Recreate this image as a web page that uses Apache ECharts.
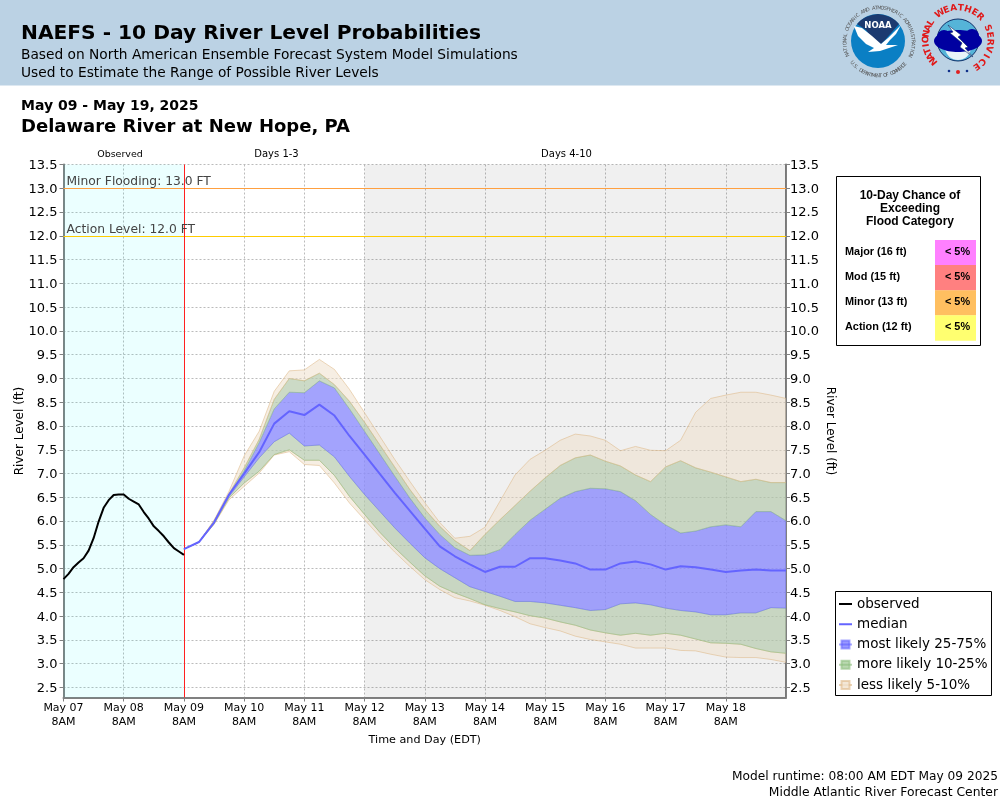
<!DOCTYPE html>
<html>
<head>
<meta charset="utf-8">
<script src="https://cdn.jsdelivr.net/npm/echarts@6/dist/echarts.min.js"></script>
<style>html,body{margin:0;padding:0;background:#fff}#main{width:1000px;height:800px}</style>
</head>
<body>
<div id="main"></div>
<script>
var font = 'DejaVu Sans';

// hours since May 07 8AM
var xLabels = ['May 07', 'May 08', 'May 09', 'May 10', 'May 11', 'May 12', 'May 13', 'May 14', 'May 15', 'May 16', 'May 17', 'May 18'];
var yTicks = [2.5, 3, 3.5, 4, 4.5, 5, 5.5, 6, 6.5, 7, 7.5, 8, 8.5, 9, 9.5, 10, 10.5, 11, 11.5, 12, 12.5, 13, 13.5];

// observed, every 2 hours from May 07 8AM
var observed = [4.78, 4.89, 5.03, 5.13, 5.22, 5.38, 5.64, 5.99, 6.28, 6.44, 6.55, 6.56, 6.56, 6.47, 6.41, 6.35, 6.19, 6.05, 5.89, 5.79, 5.68, 5.55, 5.43, 5.36, 5.29];

// forecast, every 6 hours from May 09 8AM
var median = [5.41, 5.56, 5.97, 6.56, 7.00, 7.45, 8.05, 8.31, 8.23, 8.45, 8.22, 7.79, 7.40, 7.00, 6.60, 6.22, 5.84, 5.47, 5.26, 5.09, 4.93, 5.04, 5.04, 5.22, 5.22, 5.17, 5.11, 4.98, 4.98, 5.11, 5.15, 5.09, 4.98, 5.05, 5.03, 4.98, 4.93, 4.96, 4.98, 4.96, 4.96];
var high75 = [5.41, 5.56, 5.99, 6.56, 7.05, 7.65, 8.36, 8.71, 8.70, 8.95, 8.80, 8.36, 7.89, 7.42, 6.95, 6.49, 6.07, 5.72, 5.44, 5.28, 5.29, 5.40, 5.72, 6.02, 6.25, 6.48, 6.62, 6.69, 6.68, 6.62, 6.43, 6.14, 5.92, 5.75, 5.79, 5.88, 5.92, 5.88, 6.20, 6.20, 6.01];
var low25 = [5.41, 5.56, 5.96, 6.52, 6.93, 7.33, 7.67, 7.85, 7.58, 7.60, 7.35, 6.94, 6.56, 6.21, 5.86, 5.54, 5.23, 5.00, 4.81, 4.62, 4.52, 4.42, 4.31, 4.31, 4.28, 4.23, 4.18, 4.12, 4.14, 4.26, 4.28, 4.24, 4.17, 4.12, 4.09, 4.03, 4.03, 4.07, 4.07, 4.18, 4.17];
var high90 = [5.41, 5.56, 6.00, 6.58, 7.12, 7.72, 8.56, 9.00, 8.95, 9.11, 8.87, 8.52, 8.08, 7.61, 7.14, 6.67, 6.25, 5.89, 5.59, 5.38, 5.72, 6.03, 6.33, 6.63, 6.91, 7.17, 7.33, 7.39, 7.26, 7.16, 6.97, 6.83, 7.14, 7.27, 7.12, 7.03, 6.93, 6.83, 6.88, 6.81, 6.81];
var low10 = [5.41, 5.56, 5.94, 6.49, 6.80, 7.05, 7.40, 7.50, 7.28, 7.28, 6.96, 6.52, 6.14, 5.77, 5.44, 5.14, 4.85, 4.63, 4.49, 4.37, 4.24, 4.16, 4.09, 4.01, 3.96, 3.88, 3.81, 3.71, 3.65, 3.60, 3.64, 3.60, 3.64, 3.60, 3.52, 3.44, 3.43, 3.41, 3.32, 3.25, 3.22];
var high95 = [5.41, 5.56, 6.02, 6.63, 7.37, 7.89, 8.73, 9.16, 9.18, 9.40, 9.19, 8.77, 8.28, 7.79, 7.30, 6.84, 6.39, 5.97, 5.64, 5.68, 5.87, 6.42, 6.97, 7.30, 7.49, 7.70, 7.83, 7.79, 7.70, 7.48, 7.57, 7.49, 7.48, 7.70, 8.29, 8.58, 8.65, 8.71, 8.71, 8.65, 8.58];
var low5 = [5.41, 5.56, 5.93, 6.45, 6.73, 7.01, 7.39, 7.46, 7.19, 7.17, 6.80, 6.38, 6.03, 5.68, 5.35, 5.05, 4.77, 4.56, 4.39, 4.32, 4.23, 4.12, 3.99, 3.84, 3.76, 3.69, 3.58, 3.51, 3.46, 3.41, 3.33, 3.33, 3.33, 3.28, 3.27, 3.20, 3.14, 3.13, 3.13, 3.09, 3.03];

var floodLabels = ['Major (16 ft)', 'Mod (15 ft)', 'Minor (13 ft)', 'Action (12 ft)'];
var floodChance = ['< 5%', '< 5%', '< 5%', '< 5%'];
var floodColors = ['#ff80ff', '#ff8080', '#ffbf60', '#ffff70'];

var obsData = observed.map(function (v, i) { return [i * 2, v]; });
var medData = median.map(function (v, i) { return [48 + i * 6, v]; });

var tan = 'rgba(222,184,135,0.55)', tanFill = 'rgba(238,222,200,0.5)';
var green = 'rgba(140,190,125,0.5)', greenFill = 'rgba(183,203,174,0.7)';
var blue = 'rgba(85,85,255,0.35)', blueFill = 'rgba(140,140,252,0.8)';

// one polygon between two percentile lines, placed by the axes
function bandSeries(name, lows, highs, line, fill) {
    return {
        name: name,
        type: 'custom',
        silent: true,
        z: 3,
        encode: { x: 0, y: [1, 2] },
        data: lows.map(function (v, i) { return [48 + i * 6, v, highs[i]]; }),
        renderItem: function (params, api) {
            if (params.dataIndex !== 0) return;
            var lo = lows.map(function (v, i) { return api.coord([48 + i * 6, v]); });
            var hi = highs.map(function (v, i) { return api.coord([48 + i * 6, v]); });
            return {
                type: 'group',
                children: [
                    { type: 'polygon', shape: { points: lo.concat(hi.slice().reverse()) }, style: { fill: fill } },
                    { type: 'polyline', shape: { points: lo }, style: { stroke: line, fill: 'none', lineWidth: 1 } },
                    { type: 'polyline', shape: { points: hi }, style: { stroke: line, fill: 'none', lineWidth: 1 } }
                ]
            };
        }
    };
}

// empty line series, only there to give the legend its line-and-square icon
function legendSeries(name, line, fill) {
    return {
        name: name,
        type: 'line',
        data: [],
        symbol: 'rect',
        lineStyle: { color: line, width: 2 },
        itemStyle: { color: fill, borderColor: line, borderWidth: 1 }
    };
}

// text helper for the page furniture
function txt(x, y, text, size, weight, extra) {
    var s = { x: x, y: y, text: text, fontFamily: font, fontSize: size, fontWeight: weight || 'normal', fill: '#000', verticalAlign: 'middle' };
    for (var k in extra) s[k] = extra[k];
    return { type: 'text', style: s, silent: true };
}

function shape(pts, fill, stroke) {
    return { type: 'polygon', shape: { points: pts }, style: { fill: fill, stroke: stroke, lineWidth: stroke ? 0.6 : 0 }, silent: true };
}

function disc(cx, cy, r, fill) {
    return { type: 'circle', shape: { cx: cx, cy: cy, r: r }, style: { fill: fill }, silent: true };
}

// letters placed one by one around a logo
function ringText(cx, cy, r, str, startDeg, stepDeg, size, color, weight, inner) {
    return str.split('').map(function (c, i) {
        var a = (startDeg + i * stepDeg) * Math.PI / 180;
        return {
            type: 'text',
            x: cx + r * Math.sin(a),
            y: cy - r * Math.cos(a),
            rotation: inner ? Math.PI - a : -a,
            silent: true,
            style: { text: c, fontFamily: font, fontSize: size, fontWeight: weight, fill: color, align: 'center', verticalAlign: 'middle' }
        };
    });
}

var graphics = [
    { type: 'rect', shape: { x: 0, y: 0, width: 1000, height: 85.5 }, style: { fill: '#bbd2e4' }, z: -1, silent: true },
    txt(21, 34, 'NAEFS - 10 Day River Level Probabilities', 20.2, 'bold'),
    txt(21, 55, 'Based on North American Ensemble Forecast System Model Simulations', 13.75),
    txt(21, 73.5, 'Used to Estimate the Range of Possible River Levels', 13.75),
    txt(21, 106, 'May 09 - May 19, 2025', 14, 'bold'),
    txt(21, 127, 'Delaware River at New Hope, PA', 18, 'bold'),
    txt(120, 154.5, 'Observed', 9.5, 'normal', { align: 'center' }),
    txt(276.5, 154.5, 'Days 1-3', 10, 'normal', { align: 'center' }),
    txt(566.5, 154.5, 'Days 4-10', 10, 'normal', { align: 'center' }),
    txt(998, 777, 'Model runtime: 08:00 AM EDT May 09 2025', 12.2, 'normal', { align: 'right' }),
    txt(998, 793, 'Middle Atlantic River Forecast Center', 12.35, 'normal', { align: 'right' }),

    // NOAA logo
    disc(878, 41, 27, '#0a7fc4'),
    shape([[857, 24], [861, 20], [866, 17], [872, 15], [878, 14], [884, 15], [890, 17], [895, 20], [899, 24], [892, 32], [885, 40], [881, 44], [872, 38], [866, 30]], '#1c3a70'),
    shape([[854, 26], [862, 28], [872, 36], [881, 44], [888, 38], [894, 32], [901, 25], [896, 34], [890, 40], [886, 45], [898, 45], [880, 51], [868, 52], [874, 48], [866, 44], [858, 36]], '#fff'),
    txt(878, 25.5, 'NOAA', 8.5, 'bold', { align: 'center', fill: '#fff' }),

    // NWS logo
    { type: 'circle', shape: { cx: 958, cy: 40, r: 21 }, style: { fill: '#55b4d8', stroke: '#10306a', lineWidth: 1 }, silent: true },
    disc(958, 47, 13, '#e8f4f8'),
    { type: 'ellipse', shape: { cx: 958, cy: 41, rx: 24, ry: 11 }, style: { fill: '#0000a0' }, silent: true },
    disc(944, 37, 7, '#0000a0'),
    disc(972, 36, 7, '#0000a0'),
    shape([[948, 25], [961, 35], [958, 37], [968, 47], [965, 48], [973, 57], [960, 47], [962, 43], [950, 33], [953, 32]], '#fff', '#10306a'),
    disc(949, 71, 1.3, '#10308a'),
    disc(967, 71, 1.3, '#10308a'),
    disc(958, 72, 2, '#e02020'),

    // flood category table
    { type: 'rect', shape: { x: 836.5, y: 176.5, width: 144, height: 169 }, style: { fill: '#fff', stroke: '#000', lineWidth: 1 }, silent: true },
    txt(910, 195.5, '10-Day Chance of', 12, 'bold', { align: 'center', fontFamily: 'Liberation Sans' }),
    txt(910, 208.5, 'Exceeding', 12, 'bold', { align: 'center', fontFamily: 'Liberation Sans' }),
    txt(910, 221.5, 'Flood Category', 12, 'bold', { align: 'center', fontFamily: 'Liberation Sans' })
];

graphics = graphics.concat(
    ringText(879, 42, 34, 'NATIONAL OCEANIC AND ATMOSPHERIC ADMINISTRATION', -112, 4.9, 5, '#555', 'normal', false),
    ringText(879, 42, 34, 'U.S. DEPARTMENT OF COMMERCE', 232, -3.9, 5, '#555', 'normal', true),
    ringText(958, 40, 32, 'NATIONAL', -131, 10.5, 9, '#e01818', 'bold', false),
    ringText(958, 40, 32, 'WEATHER', -34, 13, 9, '#e01818', 'bold', false),
    ringText(958, 40, 32, 'SERVICE', 68, 12.8, 9, '#e01818', 'bold', false)
);

floodLabels.forEach(function (label, i) {
    var top = 240 + i * 25.1;
    graphics.push({ type: 'rect', shape: { x: 935, y: top, width: 41, height: 25.4 }, style: { fill: floodColors[i] }, silent: true });
    graphics.push(txt(845, top + 12, label, 10.9, 'bold', { fontFamily: 'Liberation Sans' }));
    graphics.push(txt(957.5, top + 12, floodChance[i], 10.9, 'bold', { align: 'center', fontFamily: 'Liberation Sans' }));
});

var chart = echarts.init(document.getElementById('main'), null, { renderer: 'canvas' });

function yAxisOpt(name, left) {
    return {
        type: 'value',
        name: name,
        nameLocation: 'middle',
        nameGap: 38,
        nameMoveOverlap: false,
        nameRotate: left ? 90 : -90,
        nameTextStyle: { color: '#000', fontSize: 12, fontFamily: font },
        min: 2.29,
        max: 13.5,
        axisLine: { show: true, lineStyle: { color: '#808080', width: 2 } },
        axisTick: { show: true, length: 4, lineStyle: { color: '#808080' }, customValues: yTicks },
        axisLabel: {
            customValues: yTicks,
            margin: left ? 6 : 4,
            formatter: function (v) { return '{v|' + v.toFixed(1) + '}'; },
            rich: { v: { color: '#000', fontSize: 13, fontFamily: font, padding: [2, 0, 0, 0] } }
        },
        splitLine: { show: left, lineStyle: { color: '#bbb', type: [2, 2], width: 1 } }
    };
}

chart.setOption({
    animation: false,
    backgroundColor: '#fff',
    textStyle: { fontFamily: font },
    grid: { left: 63.5, right: 214, top: 164.5, bottom: 102.5, show: false, outerBoundsMode: 'none' },
    legend: {
        orient: 'vertical',
        left: 835.5,
        top: 591.5,
        padding: [5.5, 4, 3.5, 2.5],
        itemWidth: 13,
        itemHeight: 10,
        itemGap: 6.25,
        backgroundColor: '#fff',
        borderColor: '#000',
        borderWidth: 1,
        borderRadius: 0,
        textStyle: { color: '#000', fontSize: 13.5, fontFamily: font },
        selectedMode: false,
        data: [
            { name: 'observed', itemStyle: { opacity: 0 } },
            { name: 'median', itemStyle: { opacity: 0 } },
            'most likely 25-75%',
            'more likely 10-25%',
            'less likely 5-10%'
        ]
    },
    graphic: graphics,
    xAxis: {
        type: 'value',
        name: 'Time and Day (EDT)',
        nameLocation: 'middle',
        nameGap: 37,
        nameMoveOverlap: false,
        nameTextStyle: { color: '#000', fontSize: 11.2, fontFamily: font },
        min: 0,
        max: 288,
        interval: 24,
        axisLine: { onZero: false, lineStyle: { color: '#808080', width: 2 } },
        axisTick: { show: true, length: 4, lineStyle: { color: '#808080' } },
        axisLabel: {
            color: '#000',
            fontSize: 11,
            fontFamily: font,
            lineHeight: 14,
            margin: 4,
            showMaxLabel: false,
            formatter: function (v) {
                var label = xLabels[v / 24];
                return label ? label + '\n8AM' : '';
            }
        },
        splitLine: { show: true, lineStyle: { color: '#bbb', type: [2, 2], width: 1 } }
    },
    yAxis: [yAxisOpt('River Level (ft)', true), yAxisOpt('River Level (ft)', false)],
    series: [
        {
            name: 'regions',
            type: 'line',
            data: [],
            silent: true,
            z: 1,
            markArea: {
                silent: true,
                data: [
                    [{ xAxis: 0, itemStyle: { color: 'rgba(0,255,255,0.08)' } }, { xAxis: 48 }],
                    [{ xAxis: 120, itemStyle: { color: 'rgba(0,0,0,0.06)' } }, { xAxis: 288 }]
                ]
            },
            markLine: {
                silent: true,
                symbol: 'none',
                animation: false,
                data: [
                    {
                        yAxis: 13,
                        lineStyle: { color: '#ffa040', width: 1, type: 'solid' },
                        label: { show: true, formatter: 'Minor Flooding: 13.0 FT', position: 'insideStartTop', color: '#444', fontSize: 12.3, fontFamily: font, distance: 0, padding: [0, 0, 0, 3] }
                    },
                    {
                        yAxis: 12,
                        lineStyle: { color: '#ffcc00', width: 1, type: 'solid' },
                        label: { show: true, formatter: 'Action Level: 12.0 FT', position: 'insideStartTop', color: '#444', fontSize: 12.3, fontFamily: font, distance: 0, padding: [0, 0, 0, 3] }
                    },
                    {
                        xAxis: 48,
                        lineStyle: { color: '#ff2020', width: 1, type: 'solid' },
                        label: { show: false }
                    }
                ]
            }
        },
        bandSeries('band 5-10', low5, low10, tan, tanFill),
        bandSeries('band 10-25', low10, low25, green, greenFill),
        bandSeries('band 25-75', low25, high75, blue, blueFill),
        bandSeries('band 75-90', high75, high90, green, greenFill),
        bandSeries('band 90-95', high90, high95, tan, tanFill),
        legendSeries('most likely 25-75%', 'rgba(85,85,255,0.5)', 'rgba(85,85,255,0.6)'),
        legendSeries('more likely 10-25%', 'rgba(140,190,125,0.6)', 'rgba(140,190,125,0.6)'),
        legendSeries('less likely 5-10%', 'rgba(222,184,135,0.6)', 'rgba(240,225,205,0.8)'),
        {
            name: 'median',
            type: 'line',
            data: medData,
            symbol: 'none',
            silent: true,
            z: 5,
            lineStyle: { color: '#6464ff', width: 2 },
            itemStyle: { color: '#6464ff' }
        },
        {
            name: 'observed',
            type: 'line',
            data: obsData,
            symbol: 'none',
            silent: true,
            z: 6,
            lineStyle: { color: '#000', width: 2 },
            itemStyle: { color: '#000' }
        }
    ]
});
</script>
</body>
</html>
